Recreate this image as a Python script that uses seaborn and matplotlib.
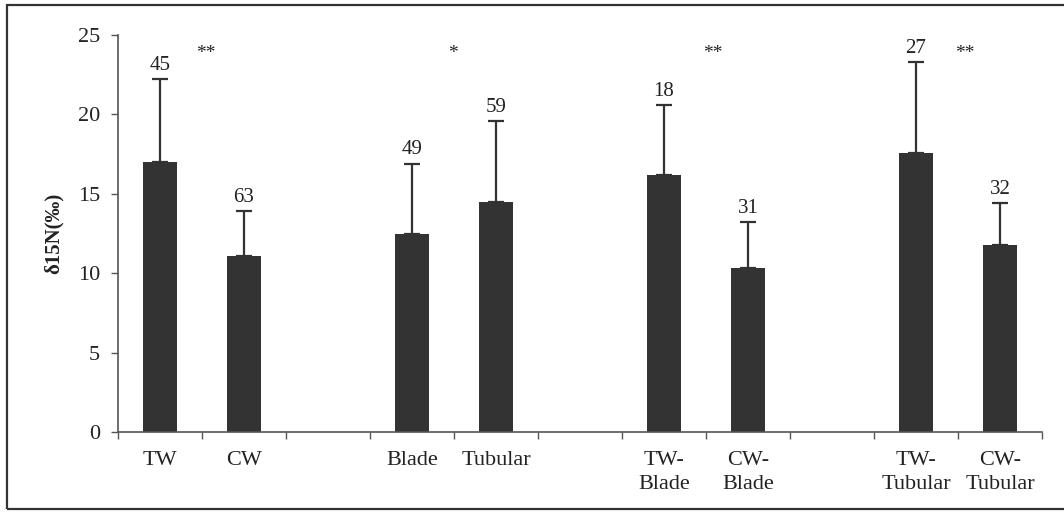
import numpy as np
import pandas as pd
import matplotlib
matplotlib.use("Agg")
import matplotlib.pyplot as plt
import seaborn as sns
from matplotlib.patches import Rectangle

# ---- data ----
slots = ["TW", "CW", "gap1", "Blade", "Tubular", "gap2",
         "TW-\nBlade", "CW-\nBlade", "gap3", "TW-\nTubular", "CW-\nTubular"]
groups = ["TW", "CW", "Blade", "Tubular", "TW-\nBlade", "CW-\nBlade",
          "TW-\nTubular", "CW-\nTubular"]
means = [17.0, 11.1, 12.5, 14.5, 16.2, 10.3, 17.6, 11.8]
upper = [22.2, 13.9, 16.9, 19.6, 20.6, 13.2, 23.3, 14.4]
counts = ["45", "63", "49", "59", "18", "31", "27", "32"]
sig_labels = ["**", "*", "**", "**"]
sig_x = [0.54, 3.49, 6.58, 9.58]
sig_y = [23.85, 23.85, 23.85, 23.85]

df = pd.DataFrame({"group": groups, "mean": means})

sns.set_theme(style="white")
plt.rcParams["font.family"] = ["Liberation Serif", "DejaVu Serif"]

fig = plt.figure(figsize=(10.64, 5.12), dpi=100)
ax = fig.add_axes([118 / 1064, 1 - 432 / 512, (1042 - 118) / 1064, (432 - 35) / 512])

bar_color = "#333333"
sns.barplot(data=df, x="group", y="mean", order=slots, color=bar_color,
            width=0.4, saturation=1, errorbar=None, ax=ax, edgecolor="none")

pos = [slots.index(g) for g in groups]
err = np.array(upper) - np.array(means)
ax.errorbar(pos, means, yerr=[np.zeros(len(err)), err], fmt="none",
            ecolor="#333333", elinewidth=1.6, capsize=6, capthick=1.6)

for p, u, c in zip(pos, upper, counts):
    ax.annotate(c, (p, u), xytext=(0, 3), textcoords="offset points",
                ha="center", va="bottom", fontsize=15, color="#222222")

for x, y, s in zip(sig_x, sig_y, sig_labels):
    ax.text(x, y, s, ha="center", va="center", fontsize=14, color="#222222")

ax.set_xlim(-0.5, len(slots) - 0.5)
ax.set_ylim(0, 25)
ax.set_yticks([0, 5, 10, 15, 20, 25])
ax.set_xticks(range(len(slots)))
ax.set_xticklabels([s if not s.startswith("gap") else "" for s in slots])
ax.set_xticks(np.arange(-0.5, len(slots), 1.0), minor=True)

ax.tick_params(axis="x", which="major", length=0, pad=14, labelsize=16,
               labelcolor="#222222")
ax.tick_params(axis="x", which="minor", length=5, width=1, color="#555555",
               direction="out", bottom=True)
ax.tick_params(axis="y", length=5, width=1, color="#555555", direction="out",
               left=True, pad=8, labelsize=16, labelcolor="#222222")
for lbl in ax.get_xticklabels():
    lbl.set_linespacing(1.35)

ax.set_xlabel("")
ax.set_ylabel("δ15N(‰)", fontsize=15, fontweight="bold", labelpad=10,
              color="#222222")

for side in ["top", "right"]:
    ax.spines[side].set_visible(False)
for side in ["left", "bottom"]:
    ax.spines[side].set_color("#555555")
    ax.spines[side].set_linewidth(1.2)

fig.patches.append(Rectangle((7 / 1064, 3 / 512), 1 - 7 / 1064 + 0.01, 1 - 8 / 512,
                             transform=fig.transFigure, fill=False,
                             edgecolor="#333333", linewidth=1.6))

fig.savefig("out.png", dpi=100, facecolor="white")
